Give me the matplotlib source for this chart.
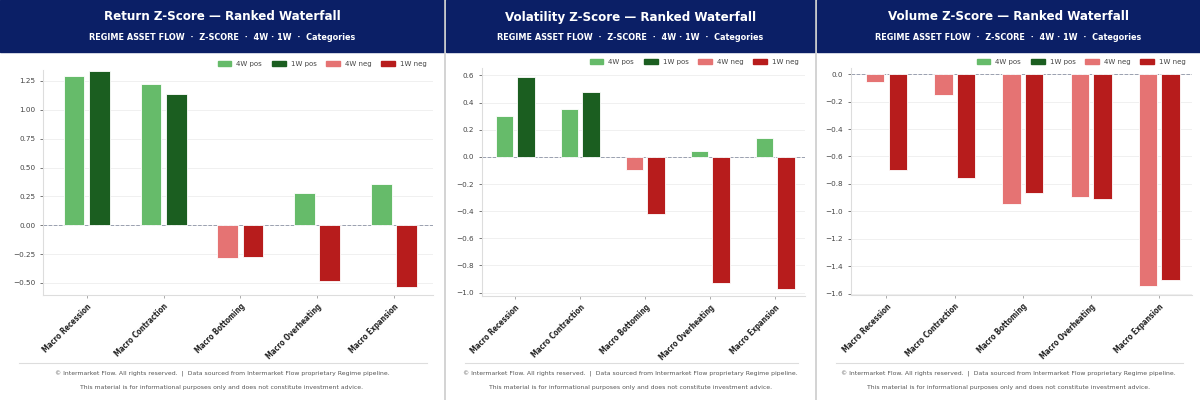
import matplotlib
matplotlib.use("Agg")
import matplotlib.pyplot as plt
import numpy as np
from matplotlib.patches import Patch, Rectangle
from matplotlib.lines import Line2D

W, H = 1200, 400

categories = ["Macro Recession", "Macro Contraction", "Macro Bottoming",
              "Macro Overheating", "Macro Expansion"]

return_4w = [1.29, 1.22, -0.28, 0.275, 0.36]
return_1w = [1.337, 1.14, -0.275, -0.485, -0.535]

vol_4w = [0.30, 0.35, -0.10, 0.046, 0.142]
vol_1w = [0.59, 0.48, -0.424, -0.927, -0.97]

volume_4w = [-0.058, -0.15, -0.945, -0.894, -1.545]
volume_1w = [-0.70, -0.76, -0.867, -0.908, -1.50]

titles = ["Return Z-Score \u2014 Ranked Waterfall",
          "Volatility Z-Score \u2014 Ranked Waterfall",
          "Volume Z-Score \u2014 Ranked Waterfall"]
subtitle = "REGIME ASSET FLOW  \u00b7  Z-SCORE  \u00b7  4W \u00b7 1W  \u00b7  Categories"
footer1 = ("\u00a9 Intermarket Flow. All rights reserved.  |  "
           "Data sourced from Intermarket Flow proprietary Regime pipeline.")
footer2 = "This material is for informational purposes only and does not constitute investment advice."

legend_labels = ["4W pos", "1W pos", "4W neg", "1W neg"]

NAVY = "#0b1f66"
C_4W_POS, C_1W_POS = "#66bb6a", "#1b5e20"
C_4W_NEG, C_1W_NEG = "#e57373", "#b71c1c"


def fx(px):
    return px / W


def fy(py):
    return 1 - py / H


def draw_panel(fig, x0, x1, ax_box, title, v4, v1, ylim, yticks, yfmt, xlim):
    # header band
    fig.add_artist(Rectangle((fx(x0), fy(52)), fx(x1 - x0), 52 / H,
                             transform=fig.transFigure, color=NAVY, zorder=0))
    cx = fx((x0 + x1) / 2)
    fig.text(cx, fy(17), title, color="white", fontsize=9.5, fontweight="bold",
             fontstretch="condensed", ha="center", va="center")
    fig.text(cx, fy(38), subtitle, color="white", fontsize=6.5, fontweight="bold",
             fontstretch="condensed", ha="center", va="center")

    # plot area
    l, r, t, b = ax_box
    ax = fig.add_axes([fx(l), fy(b), fx(r - l), (b - t) / H])
    x = np.arange(len(categories))
    c4 = [C_4W_POS if v >= 0 else C_4W_NEG for v in v4]
    c1 = [C_1W_POS if v >= 0 else C_1W_NEG for v in v1]
    ax.bar(x - 0.165, v4, width=0.27, color=c4, edgecolor="white", linewidth=0.6, zorder=3)
    ax.bar(x + 0.165, v1, width=0.27, color=c1, edgecolor="white", linewidth=0.6, zorder=3)
    ax.axhline(0, color="#9aa0b0", linestyle="--", linewidth=0.7, zorder=2)

    ax.set_xlim(*xlim)
    ax.set_ylim(*ylim)
    ax.set_yticks(yticks)
    ax.set_yticklabels([yfmt.format(v).replace("-", "\u2212") for v in yticks])
    ax.set_xticks(x)
    ax.set_xticklabels(categories, rotation=45, ha="right", rotation_mode="anchor",
                       fontsize=5.5, fontweight="bold", fontstretch="condensed",
                       color="#222222")
    ax.tick_params(axis="y", labelsize=5.2, colors="#444444", length=2, width=0.5)
    ax.tick_params(axis="x", length=2, width=0.5, color="#888888", pad=3)
    ax.grid(axis="y", color="#eeeeee", linewidth=0.6, zorder=0)
    for s in ["top", "right"]:
        ax.spines[s].set_visible(False)
    for s in ["left", "bottom"]:
        ax.spines[s].set_color("#dddddd")
        ax.spines[s].set_linewidth(0.8)

    handles = [Patch(color=c) for c in [C_4W_POS, C_1W_POS, C_4W_NEG, C_1W_NEG]]
    ax.legend(handles, legend_labels, loc="center right", bbox_to_anchor=(1.0, 1.027),
              ncol=4, frameon=False, fontsize=5, handlelength=2.0, handleheight=0.8,
              columnspacing=1.4, handletextpad=0.7, labelcolor="#444444")

    # footer
    fig.add_artist(Line2D([fx(x0 + 19), fx(x1 - 17)], [fy(363), fy(363)],
                          transform=fig.transFigure, color="#dddddd", linewidth=0.8))
    fig.text(cx, fy(374), footer1, fontsize=4.4, color="#555555", ha="center", va="center")
    fig.text(cx, fy(388), footer2, fontsize=4.4, color="#555555", ha="center", va="center")
    return ax


fig = plt.figure(figsize=(12, 4), dpi=100)
fig.patch.set_facecolor("white")

draw_panel(fig, 0, 444, (43, 433, 70, 295), titles[0], return_4w, return_1w,
           (-0.605, 1.345), [-0.5, -0.25, 0, 0.25, 0.5, 0.75, 1.0, 1.25], "{:.2f}",
           (-0.57, 4.51))
draw_panel(fig, 446, 815, (482, 805, 68, 296), titles[1], vol_4w, vol_1w,
           (-1.025, 0.655), [-1.0, -0.8, -0.6, -0.4, -0.2, 0, 0.2, 0.4, 0.6], "{:.1f}",
           (-0.51, 4.46))
draw_panel(fig, 817, 1200, (851, 1192, 68, 295), titles[2], volume_4w, volume_1w,
           (-1.61, 0.045), [-1.6, -1.4, -1.2, -1.0, -0.8, -0.6, -0.4, -0.2, 0], "{:.1f}",
           (-0.52, 4.48))

# panel separators
for px in [445, 816]:
    fig.add_artist(Line2D([fx(px), fx(px)], [0, 1], transform=fig.transFigure,
                          color="#cccccc", linewidth=1.2))

fig.savefig("out.png", dpi=100)
